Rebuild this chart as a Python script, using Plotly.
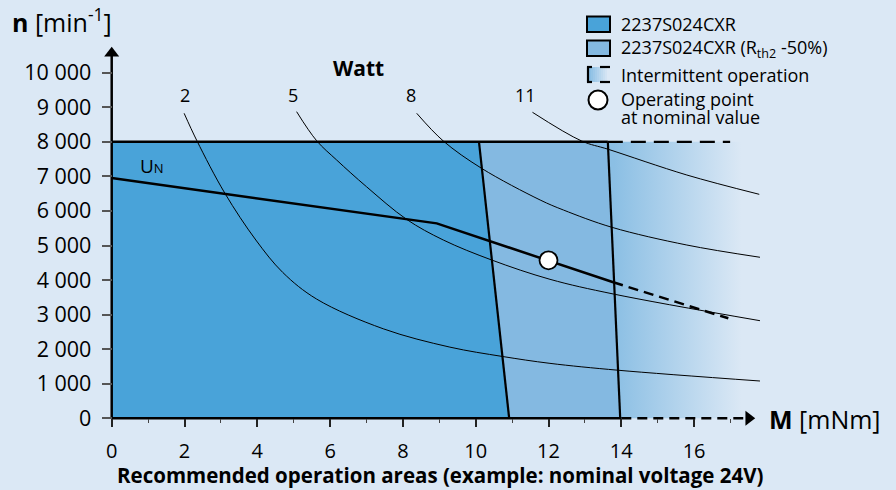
import plotly.graph_objects as go

# ---------------- data ----------------
x_ticks = [0, 2, 4, 6, 8, 10, 12, 14, 16]
x_minor = [1, 3, 5, 7, 9, 11, 13, 15, 17]
y_ticks = [0, 1000, 2000, 3000, 4000, 5000, 6000, 7000, 8000, 9000, 10000]
y_tick_labels = ["0", "1 000", "2 000", "3 000", "4 000", "5 000", "6 000",
                 "7 000", "8 000", "9 000", "10 000"]

n_max = 8000
# continuous operation area (2237S024CXR)
area1_x = [0, 0, 10.09, 10.92]
area1_y = [0, 8000, 8000, 0]
# area with Rth2 -50%
area2_x = [10.09, 13.63, 13.97, 10.92]
area2_y = [8000, 8000, 0, 0]
# intermittent operation
interm_x = [13.6, 17.5, 17.5, 13.6]
interm_y = [0, 0, 8000, 8000]
interm_top_x = [13.63, 16.99]

# nominal voltage line U_N
un_x = [0, 8.93, 13.78]
un_y = [6950, 5640, 3935]
un_dash_x = [13.78, 16.94]
un_dash_y = [3935, 2894]

# operating point at nominal value
op_x = [12.0]
op_y = [4570]

# power curves (Watt)
p2_x = [1.99, 2.34, 3.11, 3.96, 4.7, 5.63, 7.46, 9.29, 10.73, 12.04, 13.92, 17.81]
p2_y = [8825, 8032, 6510, 5159, 4220, 3450, 2590, 2060, 1790, 1590, 1390, 1079]
p5_x = [5.08, 5.63, 6.18, 7.0, 8.10, 9.11, 10.44, 12.04, 13.78, 17.81]
p5_y = [8872, 8032, 7474, 6701, 5758, 5159, 4580, 4022, 3597, 2824]
p8_x = [8.38, 9.11, 10.16, 11.77, 12.41, 13.74, 15.80, 17.81]
p8_y = [8825, 8024, 7234, 6317, 6027, 5527, 5014, 4659]
p11_x = [11.56, 12.91, 13.64, 15.80, 17.79]
p11_y = [8854, 8024, 7784, 7040, 6481]
power_labels = ["2", "5", "8", "11"]
power_label_x = [2.02, 4.98, 8.22, 11.38]
power_label_y = 9355

# ---------------- styles ----------------
BG = "#dbe8f5"
C1 = "#49a3d9"
C2 = "#84b9e1"
CG = "#8bbfe4"
FONT = "Open Sans"

# plot area in pixels
L, R, T, B = 100, 780, 30, 430
W, H = 896, 490
X0PX, XS = 111.7, 36.4
Y0PX, YS = 418.3, 0.03456
xr = [(L - X0PX) / XS, (R - X0PX) / XS]
yr = [(Y0PX - B) / YS, (Y0PX - T) / YS]


def px(xp):
    return (xp - L) / (R - L)


def py(yp):
    return (B - yp) / (B - T)


fig = go.Figure()

fig.add_trace(go.Scatter(x=interm_x, y=interm_y, fill="toself", mode="none",
                         fillgradient=dict(type="horizontal", start=13.8, stop=17.3,
                                           colorscale=[[0, CG], [1, BG]]),
                         hoverinfo="skip"))
fig.add_trace(go.Scatter(x=area2_x, y=area2_y, fill="toself", mode="none",
                         fillcolor=C2, hoverinfo="skip"))
fig.add_trace(go.Scatter(x=area1_x, y=area1_y, fill="toself", mode="none",
                         fillcolor=C1, hoverinfo="skip"))

for cx, cy in [(p2_x, p2_y), (p5_x, p5_y), (p8_x, p8_y), (p11_x, p11_y)]:
    fig.add_trace(go.Scatter(x=cx, y=cy, mode="lines",
                             line=dict(color="black", width=1, shape="spline", smoothing=1.0),
                             hoverinfo="skip"))

# boundaries
fig.add_trace(go.Scatter(x=[area1_x[2], area1_x[3]], y=[area1_y[2], area1_y[3]], mode="lines",
                         line=dict(color="black", width=2.2)))
fig.add_trace(go.Scatter(x=[area2_x[1], area2_x[2]], y=[area2_y[1], area2_y[2]], mode="lines",
                         line=dict(color="black", width=2.2)))
fig.add_trace(go.Scatter(x=[0, area2_x[1]], y=[n_max, n_max], mode="lines",
                         line=dict(color="black", width=2.5)))
fig.add_trace(go.Scatter(x=interm_top_x, y=[n_max, n_max], mode="lines",
                         line=dict(color="black", width=2.2, dash="15px,8px")))

# U_N line
fig.add_trace(go.Scatter(x=un_x, y=un_y, mode="lines", line=dict(color="black", width=2.5)))
fig.add_trace(go.Scatter(x=un_dash_x, y=un_dash_y, mode="lines",
                         line=dict(color="black", width=2.5, dash="10px,6px")))

# axes lines with arrows
fig.add_trace(go.Scatter(x=[0, 0], y=[0, 10500], mode="lines", line=dict(color="black", width=2.5)))
fig.add_trace(go.Scatter(x=[0, 14], y=[0, 0], mode="lines", line=dict(color="black", width=2.5)))
fig.add_trace(go.Scatter(x=[14, 17.35], y=[0, 0], mode="lines",
                         line=dict(color="black", width=2.5, dash="10px,6px")))
fig.add_trace(go.Scatter(x=[0], y=[10560], mode="markers",
                         marker=dict(symbol="triangle-up", size=13, color="black")))
fig.add_trace(go.Scatter(x=[17.5], y=[0], mode="markers",
                         marker=dict(symbol="triangle-right", size=13, color="black")))

# operating point
fig.add_trace(go.Scatter(x=op_x, y=op_y, mode="markers",
                         marker=dict(size=18, color="white", line=dict(color="black", width=1.8))))


def ann(x, y, text, size=17, xref="paper", yref="paper", xanchor="center"):
    return dict(x=x, y=y, xref=xref, yref=yref, text=text, showarrow=False,
                xanchor=xanchor, yanchor="middle",
                font=dict(size=size, color="black", family=FONT))


annotations = []
annotations.append(ann(6.77, 10137, "<b>Watt</b>", 21, "x", "y"))
for lab, lx in zip(power_labels, power_label_x):
    annotations.append(ann(lx, power_label_y, lab, 18, "x", "y"))
annotations.append(ann(1.1, 7300, "U<span style='font-size:13px'>N</span>", 19, "x", "y"))
annotations.append(ann(px(10), py(20), "<b>n</b> [min<sup>-1</sup>]", 25, xanchor="left"))
annotations.append(ann(px(767), py(419), "<b>M</b> [mNm]", 25, xanchor="left"))
annotations.append(ann(px(440), py(475),
                       "<b>Recommended operation areas (example: nominal voltage 24V)</b>", 20.5))

leg_texts = ["2237S024CXR", "2237S024CXR (R<sub>th2</sub> -50%)", "Intermittent operation",
             "Operating point", "at nominal value"]
leg_y = [24, 48, 75, 99, 117]
for t, yy in zip(leg_texts, leg_y):
    annotations.append(ann(px(619), py(yy), t, 18, xanchor="left"))

shapes = []
shapes.append(dict(type="rect", xref="paper", yref="paper", x0=px(587), x1=px(610),
                   y0=py(16.5), y1=py(32), fillcolor=C1, line=dict(color="black", width=2)))
shapes.append(dict(type="rect", xref="paper", yref="paper", x0=px(587), x1=px(610),
                   y0=py(40.5), y1=py(56), fillcolor=C2, line=dict(color="black", width=2)))
# gradient icon
nsteps = 10


def mix(c1, c2, t):
    a = [int(c1[i:i + 2], 16) for i in (1, 3, 5)]
    b = [int(c2[i:i + 2], 16) for i in (1, 3, 5)]
    return "#%02x%02x%02x" % tuple(round(a[k] + (b[k] - a[k]) * t) for k in range(3))


for i in range(nsteps):
    x0 = 589 + i * 2
    shapes.append(dict(type="rect", xref="paper", yref="paper", x0=px(x0), x1=px(x0 + 2.2),
                       y0=py(67), y1=py(82), fillcolor=mix(CG, BG, i / (nsteps - 1)),
                       line=dict(width=0)))
for seg in [((588, 66.5), (588, 82.5)), ((587, 67), (592, 67)), ((587, 82), (592, 82)),
            ((600, 67), (610, 67)), ((600, 82), (610, 82))]:
    shapes.append(dict(type="line", xref="paper", yref="paper", x0=px(seg[0][0]), y0=py(seg[0][1]),
                       x1=px(seg[1][0]), y1=py(seg[1][1]), line=dict(color="black", width=2.2)))
shapes.append(dict(type="circle", xref="paper", yref="paper", x0=px(588.5), x1=px(607.5),
                   y0=py(90.5), y1=py(109.5), fillcolor="white", line=dict(color="black", width=2)))

fig.update_layout(
    width=W, height=H,
    margin=dict(l=L, r=W - R, t=T, b=H - B, autoexpand=False),
    paper_bgcolor=BG, plot_bgcolor=BG,
    showlegend=False,
    font=dict(family=FONT, color="black"),
    annotations=annotations,
    shapes=shapes,
    xaxis=dict(range=xr, anchor="free", position=py(Y0PX), showgrid=False, zeroline=False,
               automargin=False,
               showline=False, tickvals=x_ticks, ticktext=[str(v) for v in x_ticks],
               ticks="outside", ticklen=8, tickwidth=1.5, tickcolor="#222",
               tickfont=dict(size=20, family=FONT, color="black"), ticklabelstandoff=7,
               minor=dict(tickvals=x_minor, ticks="outside", ticklen=4, tickwidth=1.2,
                          tickcolor="#444")),
    yaxis=dict(range=yr, anchor="free", position=px(X0PX), showgrid=False, zeroline=False,
               automargin=False,
               showline=False, tickvals=y_ticks, ticktext=y_tick_labels,
               ticks="outside", ticklen=10, tickwidth=1.5, tickcolor="#555",
               tickfont=dict(size=21.5, family=FONT, color="black"), ticklabelstandoff=6),
)

fig.write_html("out.html", config={"displayModeBar": False},
               post_script="document.body.style.margin='0';"
                           "document.body.style.background='" + BG + "';")
